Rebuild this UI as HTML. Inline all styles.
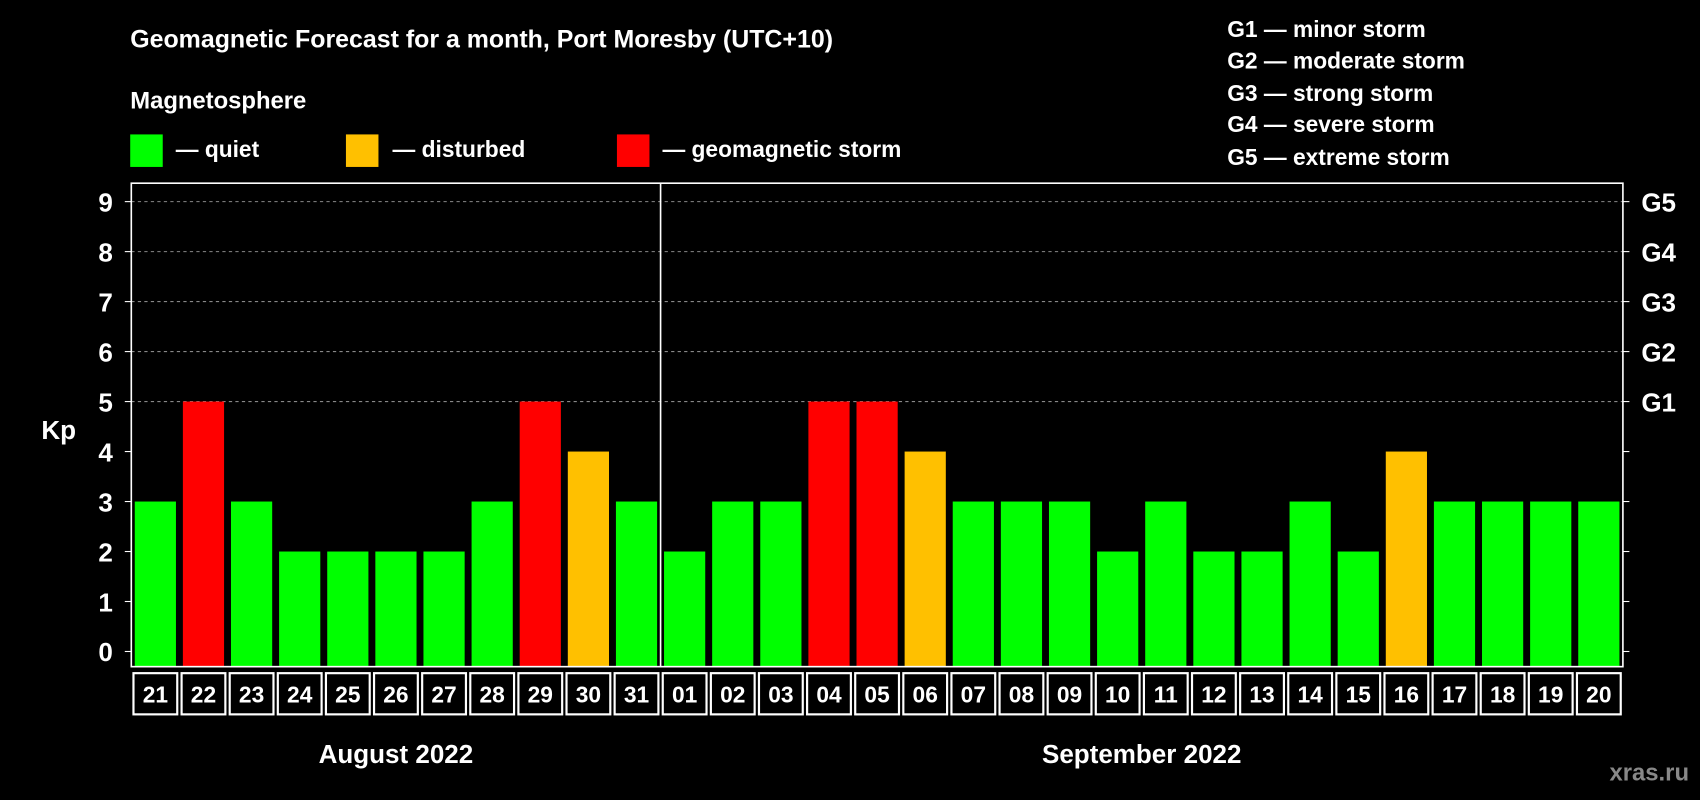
<!DOCTYPE html>
<html><head><meta charset="utf-8"><style>
html,body{margin:0;padding:0;background:#000;width:1700px;height:800px;overflow:hidden}
svg{display:block}
text{font-family:"Liberation Sans",Arial,sans-serif;font-weight:bold;fill:#fff}
</style></head><body>
<svg id="chart" width="1700" height="800" viewBox="0 0 1568 738" xmlns="http://www.w3.org/2000/svg">
<rect width="1568" height="738" fill="#000"/>
<text x="120" y="44" font-size="23">Geomagnetic Forecast for a month, Port Moresby (UTC+10)</text>
<text x="120" y="100" font-size="22">Magnetosphere</text>
<g>
<rect x="120" y="124" width="30" height="30" fill="#00ff00"/>
<text x="162" y="145" font-size="21">— quiet</text>
<rect x="319" y="124" width="30" height="30" fill="#ffc000"/>
<text x="362" y="145" font-size="21">— disturbed</text>
<rect x="569" y="124" width="30" height="30" fill="#ff0000"/>
<text x="611" y="145" font-size="21">— geomagnetic storm</text>
</g>
<g font-size="21">
<text x="1132" y="34">G1 — minor storm</text>
<text x="1132" y="63">G2 — moderate storm</text>
<text x="1132" y="93">G3 — strong storm</text>
<text x="1132" y="122">G4 — severe storm</text>
<text x="1132" y="152">G5 — extreme storm</text>
</g>
<text x="38" y="405" font-size="24">Kp</text>
<text x="1558" y="720" font-size="22" text-anchor="end" fill="#888" style="fill:#888">xras.ru</text>
<g id="grid"></g><g id="bars"></g><g id="axes"></g><g id="dates"></g>
</svg>
<script>
const days=["21","22","23","24","25","26","27","28","29","30","31","01","02","03","04","05","06","07","08","09","10","11","12","13","14","15","16","17","18","19","20"];
const kpValues=[3,5,3,2,2,2,2,3,5,4,3,2,3,3,5,5,4,3,3,3,2,3,2,2,3,2,4,3,3,3,3];
const yTicks=[0,1,2,3,4,5,6,7,8,9];
const gLabels=["","","","","","G1","G2","G3","G4","G5"];
const months=["August 2022","September 2022"];
const NS="http://www.w3.org/2000/svg";
const L=121,R=1497,T=169,B=615;
const slot=(R-L)/days.length;
function x(i){return L+slot*i+slot/2;}
function y(v){return 601-v*(601-186)/9;}
function mk(tag,attrs,parent,txt){const e=document.createElementNS(NS,tag);for(const k in attrs)e.setAttribute(k,attrs[k]);if(txt!==undefined)e.textContent=txt;parent.appendChild(e);return e;}
function color(v){return v>=5?"#ff0000":(v>=4?"#ffc000":"#00ff00");}
const grid=document.getElementById('grid'),bars=document.getElementById('bars'),axes=document.getElementById('axes'),dates=document.getElementById('dates');
yTicks.forEach((t,i)=>{
  if(t>=5){const g=mk('line',{x1:L,x2:R,y1:y(t),y2:y(t),stroke:"#888","stroke-dasharray":"3,3","stroke-width":1},grid);
  
  }
  const tl=mk('text',{x:104,y:y(t)+9,"font-size":24,"text-anchor":"end"},axes,String(t));
  
  
  mk('line',{x1:L-6,x2:L,y1:y(t),y2:y(t),stroke:"#fff"},axes);
  mk('line',{x1:R,x2:R+6,y1:y(t),y2:y(t),stroke:"#fff"},axes);
  if(gLabels[i]){const gl=mk('text',{x:1514,y:y(t)+9,"font-size":24},axes,gLabels[i]);
  
  }
});
kpValues.forEach((v,i)=>{
  const b=mk('rect',{x:x(i)-19,y:y(v),width:38,height:B-y(v),fill:color(v)},bars);
  
  
  const c=mk('rect',{x:L+slot*i+2,y:621,width:slot-4,height:38,fill:"none",stroke:"#fff","stroke-width":2},dates);
  
  
  const d=mk('text',{x:x(i),y:648,"font-size":21,"text-anchor":"middle"},dates,days[i]);
  
  
});
const frame=mk('rect',{x:L,y:T,width:R-L,height:B-T,fill:"none",stroke:"#fff","stroke-width":1.5},axes);


const sepIdx=days.indexOf("01");
const sep=mk('line',{x1:L+slot*sepIdx,x2:L+slot*sepIdx,y1:T,y2:B,stroke:"#fff","stroke-width":1.5},axes);


const m1=mk('text',{x:(L+L+slot*sepIdx)/2,y:704,"font-size":24,"text-anchor":"middle"},dates,months[0]);


const m2=mk('text',{x:(L+slot*sepIdx+R)/2,y:704,"font-size":24,"text-anchor":"middle"},dates,months[1]);


</script>
</body></html>
